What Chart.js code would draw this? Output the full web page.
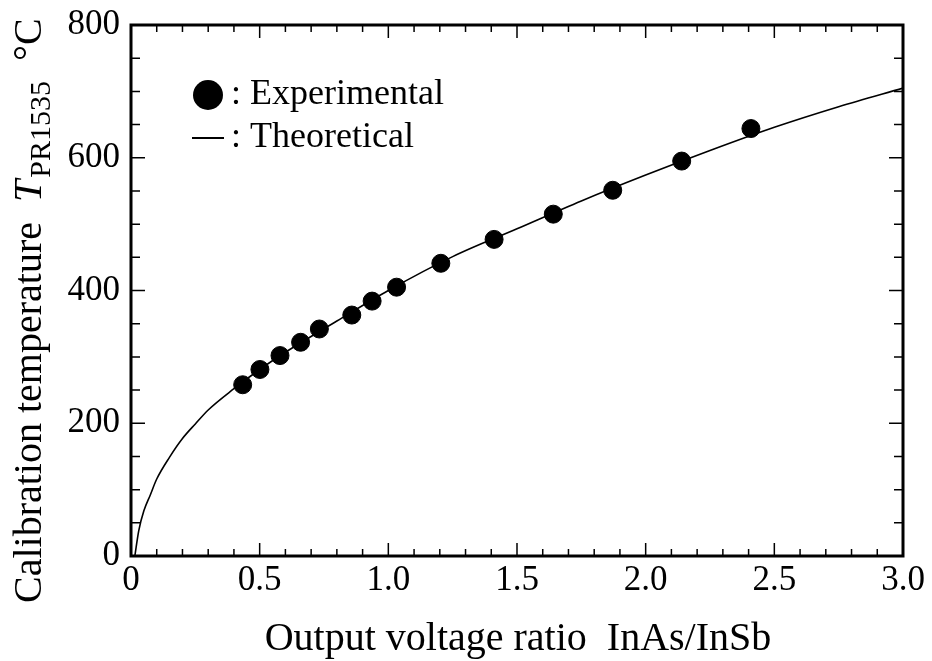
<!DOCTYPE html>
<html>
<head>
<meta charset="utf-8">
<script src="https://cdn.jsdelivr.net/npm/chart.js@4"></script>
<style>
  html, body { margin: 0; padding: 0; background: #fff; }
  #wrap { width: 932px; height: 661px; }
</style>
</head>
<body>
<div id="wrap"><canvas id="myChart" width="932" height="661"></canvas></div>
<script>
// experimental points
var expX = [0.434, 0.501, 0.579, 0.659, 0.732, 0.858, 0.937, 1.032, 1.204, 1.411, 1.641, 1.872, 2.140, 2.409];
var expY = [258, 281, 302, 322, 342, 363, 384, 405, 441, 477, 515, 551, 595, 644];

// theoretical curve
var theoX = [0.015, 0.03, 0.05, 0.075, 0.1, 0.15, 0.2, 0.25, 0.3, 0.4, 0.5, 0.6, 0.8, 1.0, 1.25, 1.5, 1.75, 2.0, 2.25, 2.5, 2.75, 3.0];
var theoY = [0, 38, 68, 92, 116, 149, 177, 199, 220, 252, 281, 307, 354, 400, 451, 493, 535, 574, 611, 646, 677, 705];

var xTickLabels = ['0', '0.5', '1.0', '1.5', '2.0', '2.5', '3.0'];
var yTickLabels = ['0', '200', '400', '600', '800'];

var FONT = 'Liberation Serif';

var expData = [];
for (var i in expX) expData.push({x: expX[i], y: expY[i]});
var theoData = [];
for (var j in theoX) theoData.push({x: theoX[j], y: theoY[j]});

// frame, inward ticks, legend and axis titles
var decor = {
    id: 'decor',
    afterDraw: function (chart) {
        var ctx = chart.ctx;
        var a = chart.chartArea;
        var sx = chart.scales.x, sy = chart.scales.y;
        ctx.save();
        ctx.strokeStyle = '#000';
        ctx.lineWidth = 1.5;
        ctx.beginPath();
        for (var k = 0; k <= 30; k++) {
            var px = sx.getPixelForValue(k / 10);
            var len = (k % 5 === 0) ? 13 : 7;
            ctx.moveTo(px, a.bottom); ctx.lineTo(px, a.bottom - len);
            ctx.moveTo(px, a.top); ctx.lineTo(px, a.top + len);
        }
        for (var m = 0; m <= 16; m++) {
            var py = sy.getPixelForValue(m * 50);
            var l2 = (m % 4 === 0) ? 14 : 9;
            ctx.moveTo(a.left, py); ctx.lineTo(a.left + l2, py);
            ctx.moveTo(a.right, py); ctx.lineTo(a.right - l2, py);
        }
        ctx.stroke();
        ctx.lineWidth = 3;
        ctx.strokeRect(a.left, a.top, a.right - a.left, a.bottom - a.top);

        // legend
        ctx.fillStyle = '#000';
        ctx.beginPath();
        ctx.arc(208, 95, 15, 0, Math.PI * 2);
        ctx.fill();
        ctx.lineWidth = 2;
        ctx.beginPath();
        ctx.moveTo(192, 138); ctx.lineTo(224, 138);
        ctx.stroke();
        ctx.font = '36px "' + FONT + '"';
        ctx.textBaseline = 'alphabetic';
        ctx.textAlign = 'left';
        ctx.fillText(': Experimental', 231, 104);
        ctx.fillText(': Theoretical', 231, 147);

        // x title
        ctx.font = '40px "' + FONT + '"';
        ctx.textAlign = 'center';
        ctx.fillText('Output voltage ratio  InAs/InSb', 518, 650);
        ctx.textAlign = 'left';

        // y title, rotated
        ctx.translate(41, 603);
        ctx.rotate(-Math.PI / 2);
        var t1 = 'Calibration temperature  ';
        ctx.fillText(t1, 0, 0);
        var x0 = ctx.measureText(t1).width;
        ctx.font = 'italic 40px "' + FONT + '"';
        ctx.fillText('T', x0, 0);
        x0 += ctx.measureText('T').width + 2;
        ctx.font = '30px "' + FONT + '"';
        ctx.fillText('PR1535', x0, 9);
        x0 += ctx.measureText('PR1535').width;
        ctx.font = '40px "' + FONT + '"';
        ctx.fillText('  \u00B0C', x0, 0);
        ctx.restore();
    }
};

var chart = new Chart(document.getElementById('myChart'), {
    type: 'scatter',
    data: {
        datasets: [
            {
                label: 'Experimental',
                data: expData,
                backgroundColor: '#000',
                borderColor: '#000',
                pointRadius: 9,
                pointHoverRadius: 9
            },
            {
                label: 'Theoretical',
                type: 'line',
                data: theoData,
                showLine: true,
                borderColor: '#000',
                borderWidth: 1.6,
                pointRadius: 0,
                fill: false,
                cubicInterpolationMode: 'monotone'
            }
        ]
    },
    options: {
        responsive: false,
        animation: false,
        layout: { padding: { top: 25, right: 29, left: 0, bottom: 0 } },
        plugins: {
            legend: { display: false },
            tooltip: { enabled: false }
        },
        scales: {
            x: {
                type: 'linear',
                min: 0,
                max: 3,
                grid: { display: false, drawTicks: false },
                border: { display: false },
                ticks: {
                    stepSize: 0.5,
                    padding: 4,
                    color: '#000',
                    font: { family: FONT, size: 35 },
                    maxRotation: 0,
                    callback: function (v) { return xTickLabels[Math.round(v * 2)]; }
                },
                afterFit: function (s) { s.height = 105; }
            },
            y: {
                min: 0,
                max: 800,
                grid: { display: false, drawTicks: false },
                border: { display: false },
                ticks: {
                    stepSize: 200,
                    padding: 11,
                    color: '#000',
                    font: { family: FONT, size: 35, lineHeight: 1 },
                    callback: function (v) { return yTickLabels[Math.round(v / 200)]; }
                },
                afterFit: function (s) { s.width = 131; s.paddingTop = 0; s.paddingBottom = 0; }
            }
        }
    },
    plugins: [decor]
});
</script>
</body>
</html>
